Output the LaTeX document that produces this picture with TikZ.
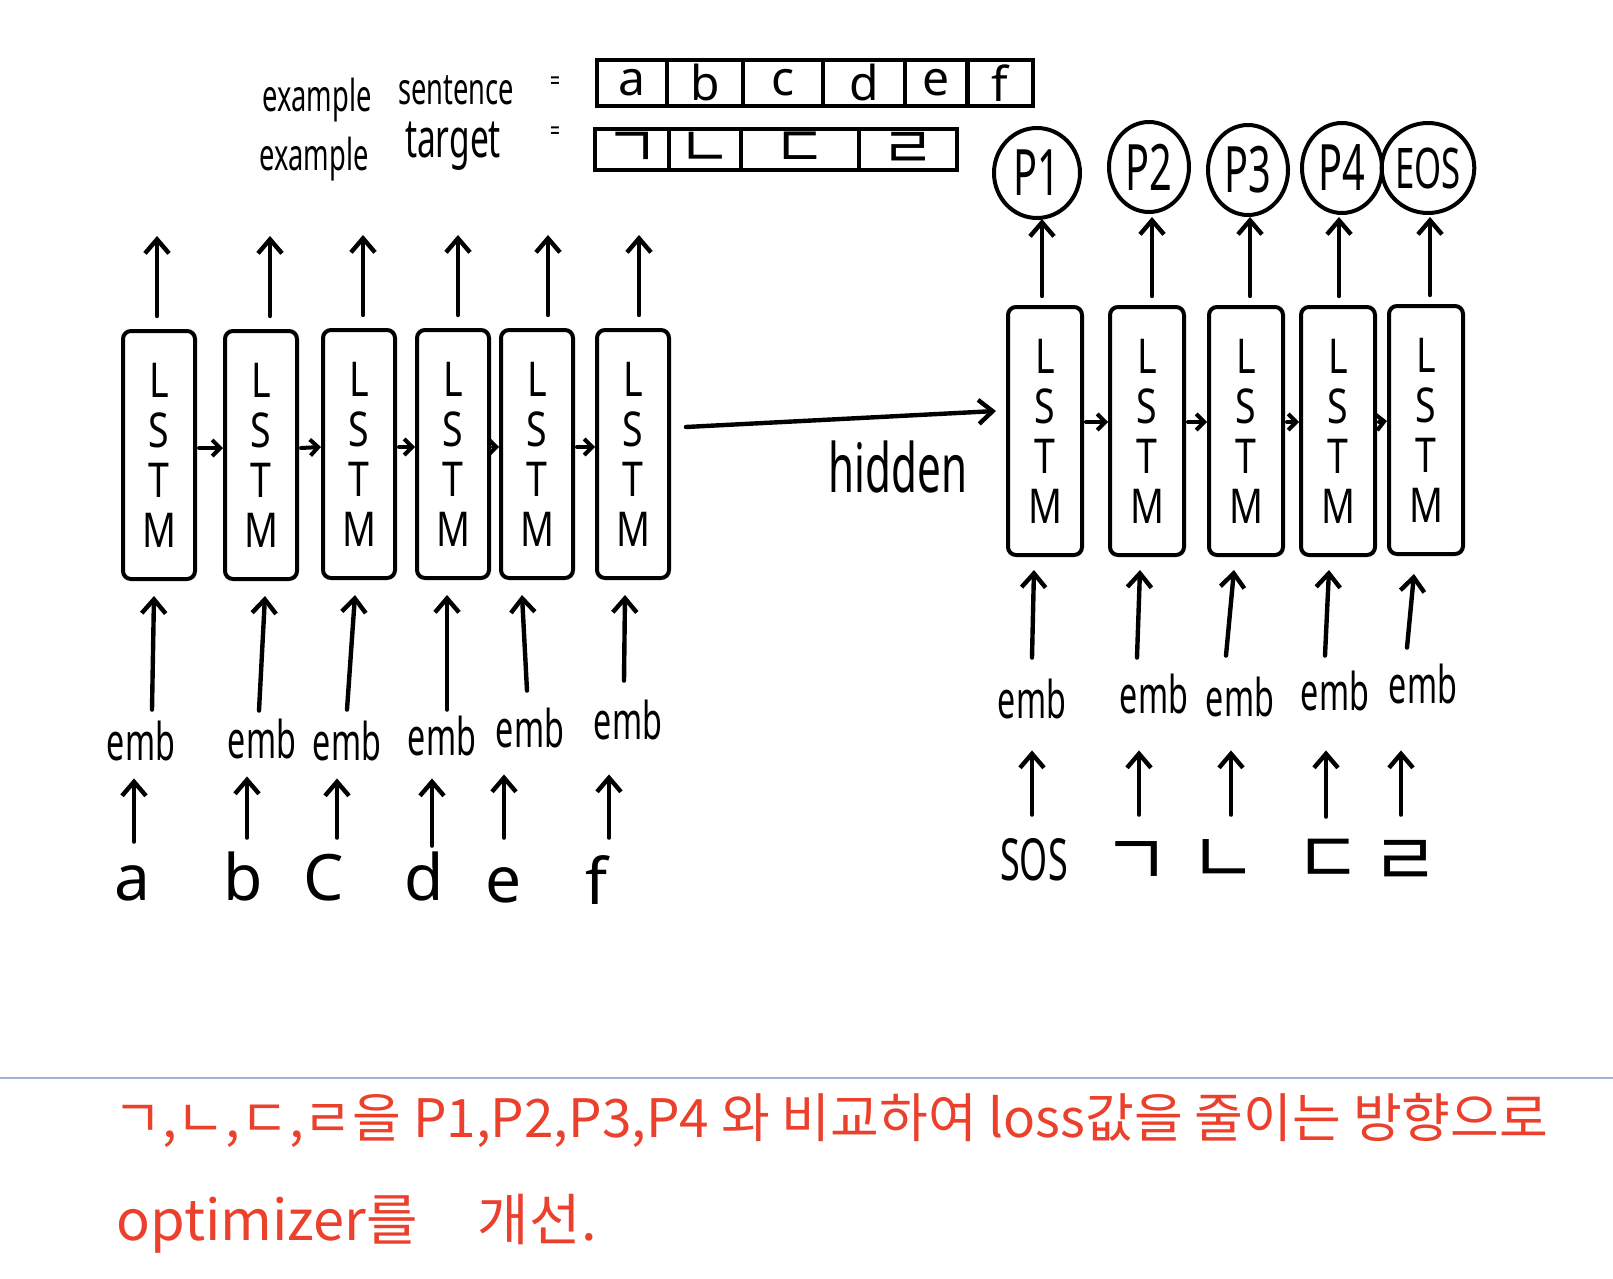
\documentclass[tikz,border=0pt]{standalone}
\usepackage{fontspec}
\setmainfont{Noto Sans}
\newfontfamily\hand{Noto Sans}[FakeStretch=0.78]
\newfontfamily\narrow{Noto Sans}[FakeStretch=0.62]
\newfontfamily\kr{Noto Sans CJK KR}
\usetikzlibrary{arrows.meta,calc,shapes.geometric}
\definecolor{inkred}{RGB}{235,64,44}
\definecolor{rulecol}{RGB}{160,180,215}
\begin{document}
\begin{tikzpicture}[x=0.5pt,y=-0.5pt,
  lstm/.style={draw, line width=2pt, rounded corners=4pt, minimum width=36pt,
    minimum height=124pt, inner sep=0pt, align=center,
    font=\hand\fontsize{24}{25}\selectfont},
  declstm/.style={lstm, minimum width=37pt},
  arr/.style={line width=2.2pt, line cap=round, -{Straight Barb[length=7pt,width=12pt]}},
  sarr/.style={line width=2pt, line cap=round, -{Straight Barb[length=4pt,width=8pt]}},
  emb/.style={font=\narrow\fontsize{26}{26}\selectfont, inner sep=2pt},
  tok/.style={font=\fontsize{32}{32}\selectfont, inner sep=0pt, text height=22pt, text depth=0pt, anchor=base},
  dtok/.style={font=\narrow\fontsize{29}{29}\selectfont, inner sep=0pt, text height=22pt, text depth=0pt, anchor=base},
  jtok/.style={font=\kr\fontsize{37}{37}\selectfont, inner sep=0pt, text height=22pt, text depth=0pt, anchor=base},
  pcirc/.style={draw, ellipse, line width=2pt, minimum width=40pt, minimum height=45pt, inner sep=0pt,
    font=\narrow\fontsize{32}{32}\selectfont},
  cell/.style={draw, line width=2pt, minimum height=23pt, inner sep=0pt, font=\fontsize{24}{24}\selectfont},
  tcell/.style={draw, line width=2pt, minimum height=20.5pt, inner sep=0pt, font=\kr\fontsize{29}{29}\selectfont},
  lbl/.style={font=\narrow\fontsize{22}{22}\selectfont, inner sep=0pt},
  redtxt/.style={font=\kr\fontsize{26.5}{26.5}\selectfont, text=inkred, inner sep=0pt, anchor=west}
]
\useasboundingbox (0,0) rectangle (1613,1279);
\fill[white] (0,0) rectangle (1613,1279);

% ---------- top: example sentence / target ----------
\node[lbl] (ex1) at (317,100) {example};
\node[lbl] (w1) at (456,90) {sentence};
\node[lbl, font=\narrow\fontsize{14}{14}\selectfont] (eq1) at (555,84) {=};
\node[lbl] (ex2) at (314,159) {example};
\node[lbl, font=\narrow\fontsize{27}{27}\selectfont] (w2) at (453,146) {target};
\node[lbl, font=\narrow\fontsize{14}{14}\selectfont] (eq2) at (555,134) {=};

\node[cell, minimum width=35pt] (s1) at (632,83) {a};
\node[cell, minimum width=38pt] (s2) at (705,83) {b};
\node[cell, minimum width=40pt] (s3) at (783,83) {c};
\node[cell, minimum width=41pt] (s4) at (864,83) {d};
\node[cell, minimum width=31pt] (s5) at (936,83) {e};
\node[cell, minimum width=32.5pt] (s6) at (1000,83) {f};

\node[tcell, minimum width=37pt] (t1) at (632,150) {ㄱ};
\node[tcell, minimum width=36pt] (t2) at (705,150) {ㄴ};
\node[tcell, minimum width=59pt] (t3) at (800,150) {ㄷ};
\node[tcell, minimum width=49pt] (t4) at (908,150) {ㄹ};

% ---------- encoder ----------
\node[lstm] (E1) at (159,455) {L\\S\\T\\M};
\node[lstm] (E2) at (261,455) {L\\S\\T\\M};
\node[lstm] (E3) at (359,454) {L\\S\\T\\M};
\node[lstm] (E4) at (453,454) {L\\S\\T\\M};
\node[lstm] (E5) at (537,454) {L\\S\\T\\M};
\node[lstm] (E6) at (633,454) {L\\S\\T\\M};

\foreach \e/\dx in {E1/-2,E2/9,E3/4,E4/5,E5/11,E6/6}
  \draw[arr] ($(\e.north)+(\dx,-13)$) -- ++(0,-80);

\foreach \a/\b in {E1/E2,E2/E3,E3/E4,E4/E5,E5/E6}
  \draw[sarr] ($(\a.east)+(2,-7)$) -- ($(\b.west)+(0,-7)$);

\node[emb] (m1) at (141,741) {emb};
\node[emb] (m2) at (262,739) {emb};
\node[emb] (m3) at (347,741) {emb};
\node[emb] (m4) at (442,736) {emb};
\node[emb] (m5) at (530,728) {emb};
\node[emb] (m6) at (628,720) {emb};

\draw[arr] ($(m1.north)+(11,-7)$) -- ($(E1.south)+(-5,15)$);
\draw[arr] ($(m2.north)+(-3,-4)$) -- ($(E2.south)+(4,15)$);
\draw[arr] ($(m3.north)+(0,-7)$) -- ($(E3.south)+(-4,15)$);
\draw[arr] ($(m4.north)+(5,-2)$) -- ($(E4.south)+(-6,15)$);
\draw[arr] ($(m5.north)+(-3,-13)$) -- ($(E5.south)+(-15,15)$);
\draw[arr] ($(m6.north)+(-4,-15)$) -- ($(E6.south)+(-8,15)$);

\node[tok] (ta) at (132,900) {a};
\node[tok] (tb) at (243,900) {b};
\node[tok] (tc) at (324,900) {C};
\node[tok] (td) at (424,900) {d};
\node[tok] (te) at (504,902) {e};
\node[tok] (tf) at (597,904) {f};

\draw[arr] ($(ta.north)+(2,-14)$) -- ($(m1.south)+(-7,13)$);
\draw[arr] ($(tb.north)+(4,-18)$) -- ($(m2.south)+(-15,13)$);
\draw[arr] ($(tc.north)+(13,-18)$) -- ($(m3.south)+(-10,13)$);
\draw[arr] ($(td.north)+(8,-10)$) -- ($(m4.south)+(-10,18)$);
\draw[arr] ($(te.north)+(0,-20)$) -- ($(m5.south)+(-26,22)$);
\draw[arr] ($(tf.north)+(12,-22)$) -- ($(m6.south)+(-19,30)$);

% ---------- decoder ----------
\node[declstm] (D1) at (1045,431) {L\\S\\T\\M};
\node[declstm] (D2) at (1147,431) {L\\S\\T\\M};
\node[declstm] (D3) at (1246,431) {L\\S\\T\\M};
\node[declstm] (D4) at (1338,431) {L\\S\\T\\M};
\node[declstm] (D5) at (1426,430) {L\\S\\T\\M};

% ---------- hidden ----------
\node[font=\narrow\fontsize{34}{34}\selectfont, inner sep=0pt] (hid) at (898,467) {hidden};
\draw[arr] ($(E6.east)+(15,-27)$) -- ($(D1.west)+(-10,-20)$);

\node[pcirc, minimum width=43pt] (P1) at (1037,173) {P1};
\node[pcirc] (P2) at (1149,167) {P2};
\node[pcirc] (P3) at (1248,170) {P3};
\node[pcirc] (P4) at (1342,168) {P4};
\node[pcirc, font=\narrow\fontsize{28}{28}\selectfont] (P5) at (1428,168) {EOS};

\draw[arr] ($(D1.north)+(-3,-9)$) -- ($(P1.south)+(5,-1)$);
\draw[arr] ($(D2.north)+(5,-9)$) -- ($(P2.south)+(3,3)$);
\draw[arr] ($(D3.north)+(4,-9)$) -- ($(P3.south)+(2,0)$);
\draw[arr] ($(D4.north)+(1,-9)$) -- ($(P4.south)+(-3,2)$);
\draw[arr] ($(D5.north)+(4,-9)$) -- ($(P5.south)+(2,2)$);

\foreach \a/\b in {D1/D2,D2/D3,D3/D4,D4/D5}
  \draw[sarr] ($(\a.east)+(2,-9)$) -- ($(\b.west)+(0,-9)$);

\node[emb] (n1) at (1032,699) {emb};
\node[emb] (n2) at (1154,694) {emb};
\node[emb] (n3) at (1240,697) {emb};
\node[emb] (n4) at (1335,691) {emb};
\node[emb] (n5) at (1423,684) {emb};

\draw[arr] ($(n1.north)+(0,-17)$) -- ($(D1.south)+(-11,13)$);
\draw[arr] ($(n2.north)+(-17,-12)$) -- ($(D2.south)+(-7,13)$);
\draw[arr] ($(n3.north)+(-14,-17)$) -- ($(D3.south)+(-12,13)$);
\draw[arr] ($(n4.north)+(-10,-11)$) -- ($(D4.south)+(-9,13)$);
\draw[arr] ($(n5.north)+(-16,-12)$) -- ($(D5.south)+(-12,18)$);

\node[dtok] (u1) at (1034,880) {SOS};
\node[jtok] (u2) at (1137,886) {ㄱ};
\node[jtok] (u3) at (1224,884) {ㄴ};
\node[jtok] (u4) at (1329,884) {ㄷ};
\node[jtok] (u5) at (1406,886) {ㄹ};

\draw[arr] ($(u1.north)+(-2,-21)$) -- ($(n1.south)+(0,27)$);
\draw[arr] ($(u2.north)+(2,-27)$) -- ($(n2.south)+(-15,32)$);
\draw[arr] ($(u3.north)+(7,-25)$) -- ($(n3.south)+(-9,29)$);
\draw[arr] ($(u4.north)+(-3,-23)$) -- ($(n4.south)+(-9,35)$);
\draw[arr] ($(u5.north)+(-5,-27)$) -- ($(n5.south)+(-22,42)$);

% ---------- bottom ----------
\draw[rulecol, line width=0.8pt] (0,1078) -- (1613,1078);
\node[redtxt] (r1) at (113,1120) {ㄱ,ㄴ,ㄷ,ㄹ을 P1,P2,P3,P4 와 비교하여 loss값을 줄이는 방향으로};
\node[redtxt, font=\kr\fontsize{28}{28}\selectfont] (r2) at (116,1224) {optimizer를\hspace{30pt}개선.};
\end{tikzpicture}
\end{document}
